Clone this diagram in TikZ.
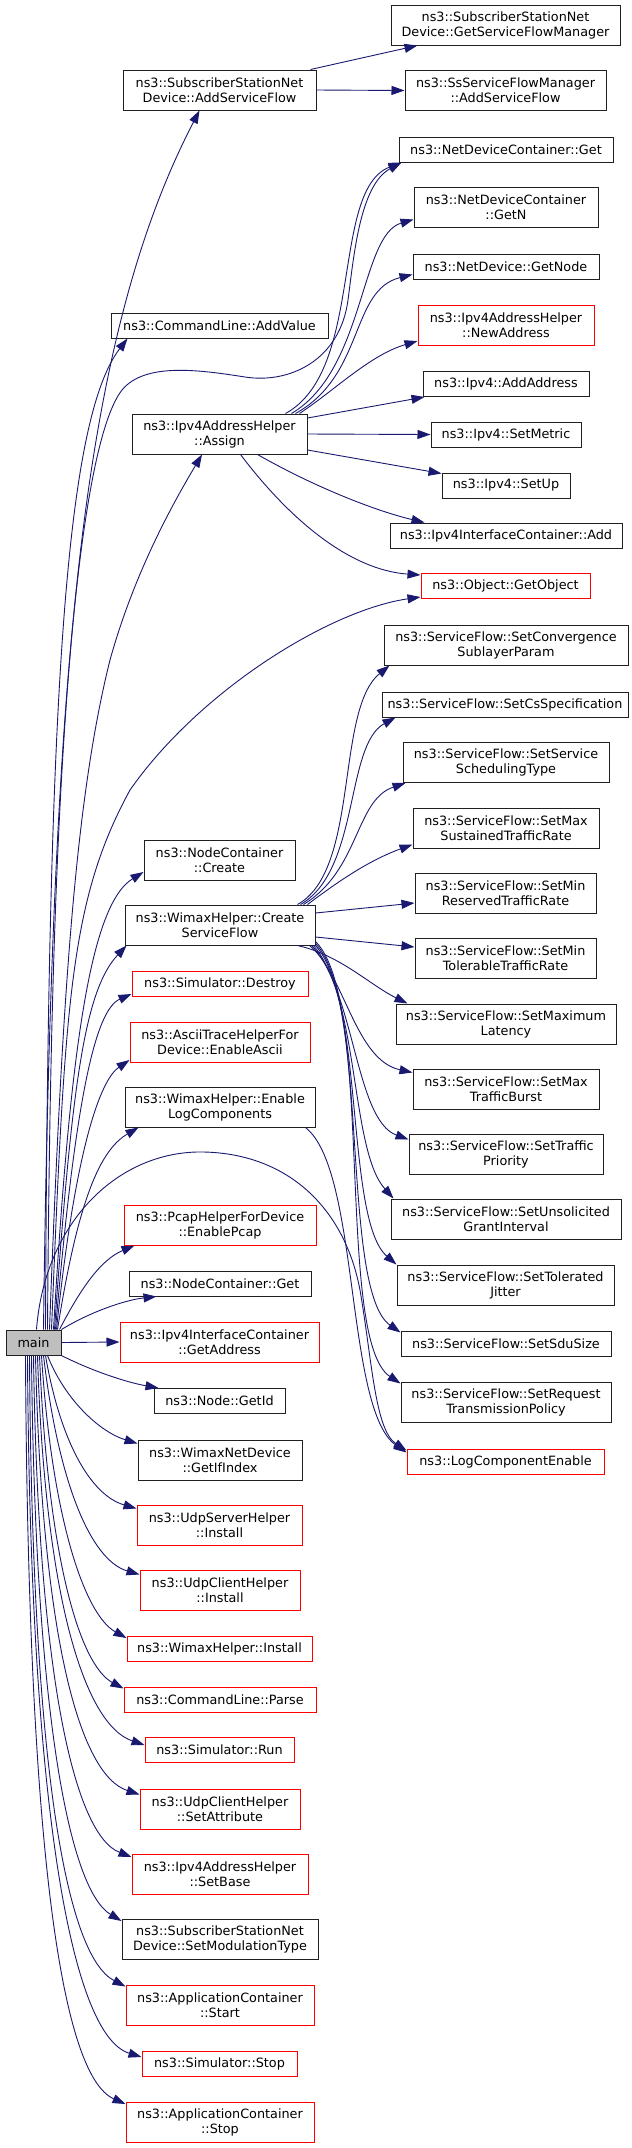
\documentclass[tikz,border=0pt]{standalone}
\usepackage{fontspec}
\setmainfont{DejaVu Sans}
\usetikzlibrary{arrows.meta}
\definecolor{navyc}{HTML}{191970}
\definecolor{mainfill}{HTML}{BFBFBF}
\definecolor{redc}{HTML}{FF0000}
\definecolor{boxc}{HTML}{202020}
\tikzset{
  box/.style={draw=boxc, line width=1pt, inner sep=0pt, align=center,
    font=\fontsize{12.8}{15}\selectfont, text=black},
  redbox/.style={box, draw=redc},
  mainbox/.style={box, fill=mainfill},
  hone/.style={minimum height=25pt},
  htwo/.style={minimum height=40pt},
  edge/.style={draw=navyc, line width=0.9pt, -{Triangle[length=13pt,width=9pt]}},
}
\begin{document}
\begin{tikzpicture}[x=1pt,y=-1pt]
\useasboundingbox (0,0) rectangle (632,2148);
% right column
\node[box,htwo,minimum width=229pt] (gsfm) at (505.5,25) {ns3::SubscriberStationNet\\Device::GetServiceFlowManager};
\node[box,htwo,minimum width=201pt] (ssasf) at (505.5,90.5) {ns3::SsServiceFlowManager\\::AddServiceFlow};
\node[box,hone,minimum width=214pt] (ndcget) at (506,149.5) {ns3::NetDeviceContainer::Get};
\node[box,htwo,minimum width=184pt] (getn) at (506,207.5) {ns3::NetDeviceContainer\\::GetN};
\node[box,hone,minimum width=186pt] (getnode) at (506,266.5) {ns3::NetDevice::GetNode};
\node[redbox,htwo,minimum width=176pt] (newaddr) at (506,325) {ns3::Ipv4AddressHelper\\::NewAddress};
\node[box,hone,minimum width=166pt] (addaddr) at (506,384) {ns3::Ipv4::AddAddress};
\node[box,hone,minimum width=150pt] (setmetric) at (506,434.5) {ns3::Ipv4::SetMetric};
\node[box,hone,minimum width=128pt] (setup) at (506,485.5) {ns3::Ipv4::SetUp};
\node[box,hone,minimum width=232pt] (ificadd) at (506,535.5) {ns3::Ipv4InterfaceContainer::Add};
\node[redbox,hone,minimum width=169pt] (getobject) at (505.5,586) {ns3::Object::GetObject};
\node[box,htwo,minimum width=244pt] (sfconv) at (506,645) {ns3::ServiceFlow::SetConvergence\\SublayerParam};
\node[box,hone,minimum width=246pt] (sfcs) at (505,704.5) {ns3::ServiceFlow::SetCsSpecification};
\node[box,htwo,minimum width=206pt] (sfsched) at (506,762.5) {ns3::ServiceFlow::SetService\\SchedulingType};
\node[box,htwo,minimum width=186pt] (sfmaxsus) at (506,828) {ns3::ServiceFlow::SetMax\\SustainedTrafficRate};
\node[box,htwo,minimum width=181pt] (sfminres) at (505.5,893) {ns3::ServiceFlow::SetMin\\ReservedTrafficRate};
\node[box,htwo,minimum width=181pt] (sfmintol) at (505.5,958) {ns3::ServiceFlow::SetMin\\TolerableTrafficRate};
\node[box,htwo,minimum width=220pt] (sfmaxlat) at (506,1024) {ns3::ServiceFlow::SetMaximum\\Latency};
\node[box,htwo,minimum width=186pt] (sfmaxburst) at (506,1089) {ns3::ServiceFlow::SetMax\\TrafficBurst};
\node[box,htwo,minimum width=194pt] (sfprio) at (506,1154) {ns3::ServiceFlow::SetTraffic\\Priority};
\node[box,htwo,minimum width=230pt] (sfugi) at (506,1219) {ns3::ServiceFlow::SetUnsolicited\\GrantInterval};
\node[box,htwo,minimum width=217pt] (sfjitter) at (505.5,1285) {ns3::ServiceFlow::SetTolerated\\Jitter};
\node[box,hone,minimum width=210pt] (sfsdu) at (506,1343.5) {ns3::ServiceFlow::SetSduSize};
\node[box,htwo,minimum width=210pt] (sfreq) at (506,1402) {ns3::ServiceFlow::SetRequest\\TransmissionPolicy};
\node[redbox,hone,minimum width=197pt] (logce) at (505.5,1461.5) {ns3::LogComponentEnable};
% left column
\node[box,htwo,minimum width=193pt] (asf) at (219.5,90) {ns3::SubscriberStationNet\\Device::AddServiceFlow};
\node[box,hone,minimum width=217pt] (addvalue) at (219.5,325.5) {ns3::CommandLine::AddValue};
\node[box,htwo,minimum width=175pt] (assign) at (219.5,434) {ns3::Ipv4AddressHelper\\::Assign};
\node[box,htwo,minimum width=151pt] (ncreate) at (219.5,860) {ns3::NodeContainer\\::Create};
\node[box,htwo,minimum width=190pt] (csf) at (220,925) {ns3::WimaxHelper::Create\\ServiceFlow};
\node[redbox,hone,minimum width=176pt] (destroy) at (220,984) {ns3::Simulator::Destroy};
\node[redbox,htwo,minimum width=180pt] (ascii) at (220,1042) {ns3::AsciiTraceHelperFor\\Device::EnableAscii};
\node[box,htwo,minimum width=190pt] (elog) at (220,1107) {ns3::WimaxHelper::Enable\\LogComponents};
\node[redbox,htwo,minimum width=192pt] (pcap) at (220,1225) {ns3::PcapHelperForDevice\\::EnablePcap};
\node[box,hone,minimum width=182pt] (ncget) at (220,1283.5) {ns3::NodeContainer::Get};
\node[mainbox,hone,minimum width=55pt] (main) at (33.5,1342.5) {main};
\node[redbox,htwo,minimum width=199pt] (getaddr) at (219.5,1342) {ns3::Ipv4InterfaceContainer\\::GetAddress};
\node[box,hone,minimum width=131pt] (getid) at (219.5,1401) {ns3::Node::GetId};
\node[box,htwo,minimum width=164pt] (getifindex) at (220,1460) {ns3::WimaxNetDevice\\::GetIfIndex};
\node[redbox,htwo,minimum width=165pt] (udpsrv) at (219.5,1525) {ns3::UdpServerHelper\\::Install};
\node[redbox,htwo,minimum width=160pt] (udpcli) at (220,1590) {ns3::UdpClientHelper\\::Install};
\node[redbox,hone,minimum width=185pt] (winstall) at (219.5,1649) {ns3::WimaxHelper::Install};
\node[redbox,hone,minimum width=192pt] (parse) at (220,1699.5) {ns3::CommandLine::Parse};
\node[redbox,hone,minimum width=149pt] (run) at (219.5,1750) {ns3::Simulator::Run};
\node[redbox,htwo,minimum width=160pt] (setattr) at (220,1809) {ns3::UdpClientHelper\\::SetAttribute};
\node[redbox,htwo,minimum width=176pt] (setbase) at (220,1874.5) {ns3::Ipv4AddressHelper\\::SetBase};
\node[box,htwo,minimum width=196pt] (setmod) at (220,1939.5) {ns3::SubscriberStationNet\\Device::SetModulationType};
\node[redbox,htwo,minimum width=188pt] (appstart) at (220,2005) {ns3::ApplicationContainer\\::Start};
\node[redbox,hone,minimum width=155pt] (simstop) at (219.5,2064) {ns3::Simulator::Stop};
\node[redbox,htwo,minimum width=188pt] (appstop) at (220,2122.5) {ns3::ApplicationContainer\\::Stop};

% edges from main (upwards)
\draw[edge] ([xshift=14pt]main.north) .. controls (52,700) and (75,350) .. ([xshift=-20pt]asf.south);
\draw[edge] ([xshift=12pt]main.north) .. controls (48,700) and (65,420) .. ([xshift=-92pt]addvalue.south);
\draw[edge] ([xshift=10pt]main.north) .. controls (50,800) and (75,450) .. (122,390)
   .. controls (145,362) and (200,370) .. (245,377)
   .. controls (290,384) and (340,360) .. (348,300)
   .. controls (354,255) and (360,185) .. ([xshift=3pt]ndcget.south west);
\draw[edge] ([xshift=16pt]main.north) .. controls (62,1000) and (75,800) .. (110,660)
   .. controls (135,570) and (175,500) .. ([xshift=-17.5pt]assign.south);
\draw[edge] ([xshift=18pt]main.north) .. controls (65,1000) and (70,900) .. (130,790)
   .. controls (200,690) and (330,610) .. ([yshift=2pt]getobject.south west);
\draw[edge] ([xshift=20pt]main.north) .. controls (70,1050) and (90,905) .. ([yshift=-12pt]ncreate.west);
\draw[edge] ([xshift=21pt]main.north) .. controls (72,1080) and (85,990) .. ([xshift=2pt]csf.south west);
\draw[edge] ([xshift=22pt]main.north) .. controls (75,1100) and (95,1010) .. ([yshift=-10pt]destroy.west);
\draw[edge] ([xshift=23pt]main.north) .. controls (75,1150) and (100,1080) .. ([yshift=-18pt]ascii.west);
\draw[edge] ([xshift=24pt]main.north) .. controls (78,1200) and (100,1150) .. ([xshift=14pt]elog.south west);
\draw[edge] ([xshift=26pt]main.north) .. controls (80,1290) and (100,1260) .. ([xshift=11pt]pcap.south west);
\draw[edge] (main.north east) .. controls (90,1312) and (125,1300) .. ([xshift=28pt]ncget.south west);
\draw[edge] ([xshift=3pt]main.north) .. controls (45,1220) and (120,1150) .. (204,1152)
   .. controls (290,1154) and (345,1210) .. (360,1290)
   .. controls (372,1360) and (375,1430) .. ([yshift=-2pt]logce.north west);
% edges from main (sideways / downwards)
\draw[edge] (main.east) -- (getaddr.west);
\draw[edge] (main.south east) .. controls (90,1370) and (125,1382) .. ([xshift=5pt]getid.north west);
\draw[edge] ([xshift=14pt]main.south) .. controls (65,1400) and (100,1432) .. ([yshift=-4pt]getifindex.north west);
\draw[edge] ([xshift=12pt]main.south) .. controls (60,1440) and (90,1495) .. ([yshift=-4pt]udpsrv.north west);
\draw[edge] ([xshift=10pt]main.south) .. controls (58,1480) and (90,1560) .. ([yshift=-5pt]udpcli.north west);
\draw[edge] ([xshift=8pt]main.south) .. controls (52,1520) and (85,1615) .. ([yshift=-2pt]winstall.north west);
\draw[edge] ([xshift=6pt]main.south) .. controls (48,1560) and (80,1665) .. ([yshift=-2pt]parse.north west);
\draw[edge] ([xshift=4pt]main.south) .. controls (45,1600) and (85,1725) .. ([yshift=-8pt]run.north west);
\draw[edge] ([xshift=2pt]main.south) .. controls (42,1640) and (80,1775) .. ([yshift=-6pt]setattr.north west);
\draw[edge] (main.south) .. controls (38,1680) and (75,1835) .. ([yshift=-3pt]setbase.north west);
\draw[edge] ([xshift=-2pt]main.south) .. controls (35,1720) and (70,1890) .. ([yshift=-2pt]setmod.north west);
\draw[edge] ([xshift=-4pt]main.south) .. controls (32,1760) and (65,1955) .. ([yshift=-2pt]appstart.north west);
\draw[edge] ([xshift=-6pt]main.south) .. controls (30,1800) and (70,2035) .. ([yshift=-6pt]simstop.north west);
\draw[edge] ([xshift=-8pt]main.south) .. controls (28,1840) and (60,2075) .. ([yshift=-2pt]appstop.north west);

% AddServiceFlow
\draw[edge] ([xshift=-6pt]asf.north east) -- ([xshift=27pt]gsfm.south west);
\draw[edge] (asf.east) -- (ssasf.west);

% Assign
\draw[edge] ([xshift=66pt]assign.north) .. controls (365,370) and (330,190) .. ([xshift=3pt]ndcget.south west);
\draw[edge] ([xshift=72pt]assign.north) .. controls (365,370) and (360,235) .. ([yshift=-12pt]getn.west);
\draw[edge] ([xshift=76pt]assign.north) .. controls (365,375) and (350,290) .. ([yshift=-8pt]getnode.west);
\draw[edge] ([xshift=80pt]assign.north) .. controls (335,390) and (370,355) .. ([yshift=-16pt]newaddr.west);
\draw[edge] ([yshift=16pt]assign.east) -- ([xshift=2pt]addaddr.south west);
\draw[edge] (assign.east) -- (setmetric.west);
\draw[edge] ([yshift=-16pt]assign.east) -- ([yshift=-1pt]setup.north west);
\draw[edge] ([xshift=38pt]assign.south) .. controls (320,490) and (380,512) .. ([xshift=35pt]ificadd.north west);
\draw[edge] ([xshift=21pt]assign.south) .. controls (290,520) and (350,570) .. ([yshift=-2pt]getobject.north west);

% CreateServiceFlow
\draw[edge] ([xshift=-18pt]csf.north east) .. controls (360,870) and (335,710) .. ([xshift=6pt]sfconv.south west);
\draw[edge] ([xshift=-15pt]csf.north east) .. controls (360,870) and (345,745) .. ([xshift=14pt]sfcs.south west);
\draw[edge] ([xshift=-12pt]csf.north east) .. controls (360,870) and (355,800) .. ([xshift=3pt]sfsched.south west);
\draw[edge] ([xshift=-8pt]csf.north east) .. controls (340,880) and (370,860) .. ([yshift=4pt]sfmaxsus.south west);
\draw[edge] ([yshift=12pt]csf.east) -- ([yshift=-10pt]sfminres.west);
\draw[edge] ([yshift=-12pt]csf.east) -- ([yshift=11pt]sfmintol.west);
\draw[edge] ([xshift=-18pt]csf.south east) .. controls (340,955) and (370,985) .. ([xshift=12pt]sfmaxlat.north west);
\draw[edge] ([xshift=-6pt]csf.south east) .. controls (345,975) and (355,1060) .. ([yshift=-4pt]sfmaxburst.north west);
\draw[edge] ([xshift=-4pt]csf.south east) .. controls (355,990) and (355,1120) .. ([yshift=-6pt]sfprio.north west);
\draw[edge] ([xshift=-2pt]csf.south east) .. controls (360,1000) and (350,1150) .. ([xshift=3pt]sfugi.north west);
\draw[edge] (csf.south east) .. controls (365,1000) and (345,1220) .. (sfjitter.north west);
\draw[edge] ([yshift=2pt]csf.south east) .. controls (370,1000) and (340,1290) .. ([yshift=-2pt]sfsdu.north west);
\draw[edge] ([yshift=4pt]csf.south east) .. controls (375,1000) and (335,1340) .. ([yshift=-2pt]sfreq.north west);

% EnableLogComponents
\draw[edge] ([xshift=-10pt]elog.south east) .. controls (360,1170) and (345,1410) .. ([yshift=-4pt]logce.north west);
\end{tikzpicture}
\end{document}
